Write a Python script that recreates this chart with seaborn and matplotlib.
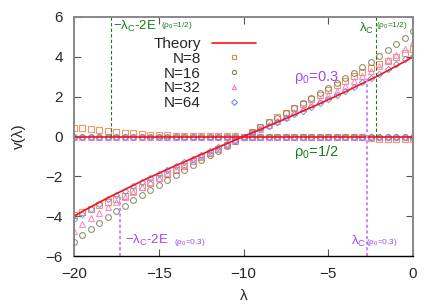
import numpy as np
import pandas as pd
import matplotlib
matplotlib.use('Agg')
import matplotlib.pyplot as plt
import seaborn as sns
from matplotlib.lines import Line2D

# lambda grid of the simulation points
lam = np.arange(-20, 0.01, 0.5)

# theory, rho0 = 0.3
theory_03 = [-4.00, -3.76, -3.53, -3.30, -3.08, -2.87, -2.66, -2.45, -2.24, -2.04,
             -1.85, -1.65, -1.46, -1.28, -1.09, -0.90, -0.72, -0.54, -0.36, -0.18,
             0.00, 0.18, 0.36, 0.54, 0.72, 0.90, 1.09, 1.28, 1.46, 1.65,
             1.85, 2.04, 2.24, 2.45, 2.66, 2.87, 3.08, 3.30, 3.53, 3.76, 4.00]
# theory, rho0 = 1/2 : v = 0 everywhere
theory_half = [0.0] * 41

# simulation, rho0 = 0.3
n8_03 = [-3.95, -3.80, -3.62, -3.44, -3.30, -3.13, -2.97, -2.76, -2.55, -2.32,
         -2.09, -1.88, -1.70, -1.50, -1.24, -1.02, -0.82, -0.62, -0.42, -0.21,
         0.00, 0.24, 0.49, 0.72, 0.97, 1.20, 1.45, 1.65, 1.87, 2.08,
         2.34, 2.57, 2.80, 3.04, 3.26, 3.45, 3.62, 3.80, 3.97, 4.17, 4.39]
n16_03 = [-5.28, -4.95, -4.63, -4.32, -4.03, -3.76, -3.48, -3.21, -2.93, -2.67,
          -2.42, -2.16, -1.91, -1.68, -1.43, -1.18, -0.94, -0.71, -0.47, -0.24,
          0.00, 0.24, 0.47, 0.71, 0.94, 1.18, 1.43, 1.68, 1.91, 2.16,
          2.42, 2.67, 2.93, 3.21, 3.48, 3.76, 4.03, 4.32, 4.63, 4.95, 5.30]
n32_03 = [-4.75, -4.41, -4.11, -3.82, -3.55, -3.29, -3.03, -2.78, -2.53, -2.29,
          -2.07, -1.84, -1.62, -1.42, -1.21, -0.99, -0.79, -0.60, -0.40, -0.20,
          0.00, 0.20, 0.40, 0.60, 0.79, 0.99, 1.21, 1.42, 1.62, 1.84,
          2.07, 2.29, 2.53, 2.78, 3.03, 3.29, 3.55, 3.82, 4.11, 4.41, 4.76]
n64_03 = [-4.12, -3.87, -3.63, -3.39, -3.16, -2.94, -2.72, -2.50, -2.29, -2.08,
          -1.88, -1.68, -1.49, -1.30, -1.11, -0.92, -0.73, -0.55, -0.37, -0.18,
          0.00, 0.18, 0.37, 0.55, 0.73, 0.92, 1.11, 1.30, 1.49, 1.68,
          1.88, 2.08, 2.29, 2.50, 2.72, 2.94, 3.16, 3.39, 3.63, 3.87, 4.05]

# simulation, rho0 = 1/2
n8_half = [0.42, 0.42, 0.37, 0.34, 0.30, 0.25, 0.20, 0.17, 0.13, 0.10,
           0.08, 0.07, 0.05, 0.05, 0.03, 0.03, 0.02, 0.02, 0.01, 0.01,
           0.00, 0.00, 0.00, 0.00, 0.00, 0.00, 0.00, 0.00, 0.00, 0.00,
           0.00, 0.00, 0.00, -0.01, -0.05, -0.10, -0.12, -0.13, -0.13, -0.13, -0.12]
n16_half = [0.0] * 41
n32_half = [0.0] * 41
n64_half = [0.0] * 41

# critical points (lambda) and theory value there
crit_half = [-17.8, -2.2]
crit_03 = [-17.3, -2.7]
crit_03_v = [-3.0, 3.0]

sizes = ['N=8', 'N=16', 'N=32', 'N=64']
colors = ['#f4844a', '#80805a', '#ff77c8', '#6f8fe6']
markers = ['s', 'o', '^', 'D']
msize = [4.2, 4.2, 4.2, 3.2]

rows = []
for name, a, b in zip(sizes, [n8_03, n16_03, n32_03, n64_03],
                      [n8_half, n16_half, n32_half, n64_half]):
    for x, y in zip(lam, a):
        rows.append({'lam': x, 'v': y, 'N': name, 'rho': '0.3'})
    for x, y in zip(lam, b):
        rows.append({'lam': x, 'v': y, 'N': name, 'rho': '1/2'})
df = pd.DataFrame(rows)

sns.set_theme(style='ticks')
plt.rcParams['font.family'] = ['Liberation Sans', 'DejaVu Sans']
plt.rcParams['mathtext.fontset'] = 'custom'
plt.rcParams['mathtext.rm'] = 'Liberation Sans'
plt.rcParams['mathtext.it'] = 'Liberation Sans'

fig = plt.figure(figsize=(4.36, 3.05), dpi=100)
ax = fig.add_axes([74 / 436, 1 - 256 / 305, (413 - 74) / 436, (256 - 17) / 305])

green = '#1c7a1c'
purple = '#a447f0'

for name, c, m, ms in zip(sizes, colors, markers, msize):
    sub = df[df['N'] == name]
    sns.lineplot(data=sub, x='lam', y='v', units='rho', estimator=None, sort=False,
                 linestyle='', marker=m, markersize=ms, mfc='none', mec=c,
                 mew=0.8, alpha=0.85, ax=ax, legend=False)

sns.lineplot(x=lam, y=theory_03, color='#ff1010', lw=1.2, ax=ax)
sns.lineplot(x=lam, y=theory_half, color='#ff1010', lw=1.2, ax=ax)

for xc in crit_half:
    ax.plot([xc, xc], [0, 6], ls=(0, (3, 2)), color=green, lw=0.8)
for xc, vc in zip(crit_03, crit_03_v):
    ax.plot([xc, xc], [-6, vc], ls=(0, (1.5, 1.2)), color='#c88cff', lw=1.5)

ax.set_xlim(-20, 0)
ax.set_ylim(-6, 6)
ax.set_xticks([-20, -15, -10, -5, 0])
ax.set_yticks([-6, -4, -2, 0, 2, 4, 6])
ax.tick_params(direction='in', length=5, width=0.8, top=True, right=True,
               labelsize=11, pad=8, color='#555555')
for s in ['left', 'right', 'top']:
    ax.spines[s].set_color('#888888')
    ax.spines[s].set_linewidth(1.4)
ax.spines['bottom'].set_color('black')
ax.spines['bottom'].set_linewidth(1.0)
ax.set_xlabel('λ', fontsize=11, labelpad=6)
ax.set_ylabel('v(λ)', fontsize=11, labelpad=14)

# annotations
ax.text(-17.7, 5.35, r'$\mathregular{-\lambda_C}$-2E', color=green, fontsize=9.5, va='baseline')
ax.text(-14.85, 5.55, r'($\mathregular{\rho_0}$=1/2)', color=green, fontsize=6, va='center')
ax.text(-3.2, 5.25, r'$\mathregular{\lambda_C}$', color=green, fontsize=9.5, va='baseline')
ax.text(-2.18, 5.55, r'($\mathregular{\rho_0}$=1/2)', color=green, fontsize=6, va='center')
ax.text(-7.05, 2.77, r'$\mathregular{\rho_0}$=0.3', color=purple, fontsize=10.5, va='baseline')
ax.text(-7.05, -0.99, r'$\mathregular{\rho_0}$=1/2', color=green, fontsize=10.5, va='baseline')
ax.text(-17.0, -5.4, r'$\mathregular{-\lambda_C}$-2E', color=purple, fontsize=9.5, va='baseline')
ax.text(-14.1, -5.3, r'($\mathregular{\rho_0}$=0.3)', color=purple, fontsize=6, va='center')
ax.text(-3.66, -5.45, r'$\mathregular{\lambda_C}$', color=purple, fontsize=9.5, va='baseline')
ax.text(-2.77, -5.3, r'($\mathregular{\rho_0}$=0.3)', color=purple, fontsize=6, va='center')

handles = [Line2D([], [], color='#ff1010', lw=1.2)]
for c, m in zip(colors, markers):
    handles.append(Line2D([], [], ls='', marker=m, ms=3, mfc='none', mec=c, mew=0.8))
ax.legend(handles, ['Theory'] + sizes, markerfirst=False, frameon=False,
          loc='upper right', bbox_to_anchor=(256 / 436, 1 - 37 / 305),
          bbox_transform=fig.transFigure, fontsize=11, handlelength=2.9,
          handletextpad=0.7, labelspacing=0.05, borderpad=0, borderaxespad=0)

fig.savefig('out.png', dpi=100)
